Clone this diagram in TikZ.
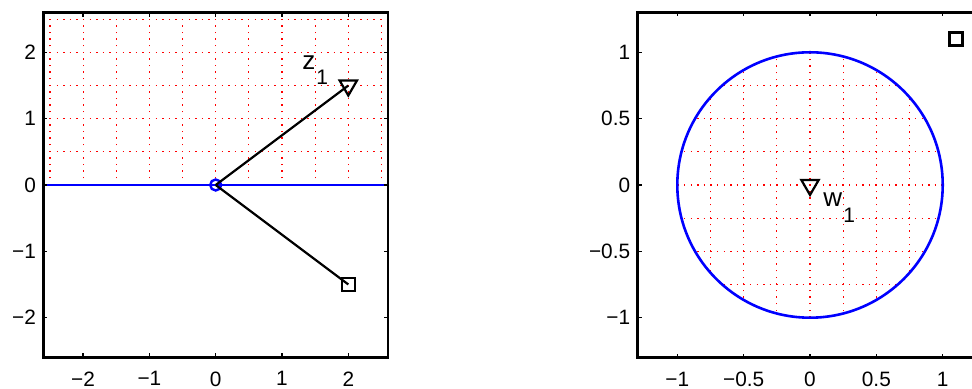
\documentclass[tikz,border=0pt]{standalone}
\usepackage{fontspec}
\setmainfont{Liberation Sans}
\usetikzlibrary{shapes.geometric}

\begin{document}
\begin{tikzpicture}[x=0.5pt, y=0.5pt,
    gridline/.style={red, line width=0.6pt, dash pattern=on 0.7pt off 2.6pt},
    frame/.style={black, line width=1.3pt},
    tickmark/.style={black, line width=0.7pt},
    curve/.style={blue, line width=1.3pt},
    ray/.style={black, line width=1.1pt},
    ptcircle/.style={circle, draw=blue, line width=1.2pt, minimum size=5.5pt, inner sep=0pt},
    pttri/.style={regular polygon, regular polygon sides=3, shape border rotate=180, draw=black, line width=1.1pt, minimum size=10pt, inner sep=0pt},
    ptsquare/.style={rectangle, draw=black, line width=1.1pt, minimum size=6.5pt, inner sep=0pt},
    ylab/.style={font=\fontsize{10.4}{12}\selectfont, inner sep=0pt, anchor=east, xshift=-3.5pt},
    xlab/.style={font=\fontsize{10.4}{12}\selectfont, inner sep=0pt, anchor=north, yshift=-6.9pt},
    ptlab/.style={font=\fontsize{13}{15}\selectfont, inner sep=0pt, anchor=base west}]
  \clip (0,0) rectangle (972,389);

  % Left panel: upper half plane (z)
  \begin{scope}[shift={(215.7,204)}, x=33.15pt, y=33.15pt]
    % grid above the real axis
    \draw[gridline] (-2.5,0) -- (-2.5,2.6) (-2,0) -- (-2,2.6) (-1.5,0) -- (-1.5,2.6)
                    (-1,0) -- (-1,2.6) (-0.5,0) -- (-0.5,2.6) (0,0) -- (0,2.6)
                    (0.5,0) -- (0.5,2.6) (1,0) -- (1,2.6) (1.5,0) -- (1.5,2.6)
                    (2,0) -- (2,2.6) (2.5,0) -- (2.5,2.6);
    \draw[gridline] (-2.6,0.5) -- (2.6,0.5) (-2.6,1) -- (2.6,1) (-2.6,1.5) -- (2.6,1.5)
                    (-2.6,2) -- (2.6,2) (-2.6,2.5) -- (2.6,2.5);

    % real axis
    \coordinate (rl) at (-2.6,0);
    \coordinate (rr) at (2.6,0);
    \draw[curve] (rl) -- (rr);

    % points
    \node[ptcircle] (o) at (0,0) {};
    \node[pttri] (z1) at (2,1.5) {};
    \node[ptsquare] (zs) at (2,-1.5) {};
    \node[ptlab] (z1lab) at (1.30,1.735) {z\kern0.6pt\raisebox{-7.3pt}{\fontsize{10.5}{12}\selectfont 1}};
    \draw[ray] (o.center) -- (z1.center);
    \draw[ray] (o.center) -- (zs.center);

    % box and ticks
    \draw[frame] (-2.6,-2.6) rectangle (2.6,2.6);
    \draw[tickmark] (-2,-2.6) -- ++(0,2pt) (-1,-2.6) -- ++(0,2pt) (0,-2.6) -- ++(0,2pt)
                    (1,-2.6) -- ++(0,2pt) (2,-2.6) -- ++(0,2pt)
                    (-2,2.6) -- ++(0,-2pt) (-1,2.6) -- ++(0,-2pt) (0,2.6) -- ++(0,-2pt)
                    (1,2.6) -- ++(0,-2pt) (2,2.6) -- ++(0,-2pt)
                    (-2.6,-2) -- ++(2pt,0) (-2.6,-1) -- ++(2pt,0) (-2.6,0) -- ++(2pt,0)
                    (-2.6,1) -- ++(2pt,0) (-2.6,2) -- ++(2pt,0)
                    (2.6,-2) -- ++(-2pt,0) (2.6,-1) -- ++(-2pt,0) (2.6,0) -- ++(-2pt,0)
                    (2.6,1) -- ++(-2pt,0) (2.6,2) -- ++(-2pt,0);

    % tick labels
    \node[ylab] (lym2) at (-2.6,-2) {−2};
    \node[ylab] (lym1) at (-2.6,-1) {−1};
    \node[ylab] (ly0) at (-2.6,0) {0};
    \node[ylab] (ly1) at (-2.6,1) {1};
    \node[ylab] (ly2) at (-2.6,2) {2};
    \node[xlab] (lxm2) at (-2,-2.6) {−2};
    \node[xlab] (lxm1) at (-1,-2.6) {−1};
    \node[xlab] (lx0) at (0,-2.6) {0};
    \node[xlab] (lx1) at (1,-2.6) {1};
    \node[xlab] (lx2) at (2,-2.6) {2};
  \end{scope}

  % Right panel: unit disk (w)
  \begin{scope}[shift={(810,204)}, x=66.35pt, y=66.35pt]
    % grid inside the disk
    \begin{scope}
      \clip (0,0) circle (1);
      \draw[gridline] (-0.75,-1) -- (-0.75,1) (-0.5,-1) -- (-0.5,1) (-0.25,-1) -- (-0.25,1)
                      (0,-1) -- (0,1) (0.25,-1) -- (0.25,1) (0.5,-1) -- (0.5,1)
                      (0.75,-1) -- (0.75,1);
      \draw[gridline] (-1,-0.75) -- (1,-0.75) (-1,-0.5) -- (1,-0.5) (-1,-0.25) -- (1,-0.25)
                      (-1,0) -- (1,0) (-1,0.25) -- (1,0.25) (-1,0.5) -- (1,0.5)
                      (-1,0.75) -- (1,0.75);
    \end{scope}

    % unit circle
    \draw[curve] (0,0) circle (1);

    % points
    \node[pttri] (w1) at (0,0) {};
    \node[ptsquare] (ws) at (1.1,1.1) {};
    \node[ptlab] (w1lab) at (0.098,-0.162) {w\kern0.6pt\raisebox{-7.8pt}{\fontsize{10.5}{12}\selectfont 1}};

    % box and ticks
    \draw[frame] (-1.3,-1.3) rectangle (1.3,1.3);
    \draw[tickmark] (-1,-1.3) -- ++(0,2pt) (-0.5,-1.3) -- ++(0,2pt) (0,-1.3) -- ++(0,2pt)
                    (0.5,-1.3) -- ++(0,2pt) (1,-1.3) -- ++(0,2pt)
                    (-1,1.3) -- ++(0,-2pt) (-0.5,1.3) -- ++(0,-2pt) (0,1.3) -- ++(0,-2pt)
                    (0.5,1.3) -- ++(0,-2pt) (1,1.3) -- ++(0,-2pt)
                    (-1.3,-1) -- ++(2pt,0) (-1.3,-0.5) -- ++(2pt,0) (-1.3,0) -- ++(2pt,0)
                    (-1.3,0.5) -- ++(2pt,0) (-1.3,1) -- ++(2pt,0);

    % tick labels
    \node[ylab] (rym1) at (-1.3,-1) {−1};
    \node[ylab] (rymh) at (-1.3,-0.5) {−0.5};
    \node[ylab] (ry0) at (-1.3,0) {0};
    \node[ylab] (ryh) at (-1.3,0.5) {0.5};
    \node[ylab] (ry1) at (-1.3,1) {1};
    \node[xlab] (rxm1) at (-1,-1.3) {−1};
    \node[xlab] (rxmh) at (-0.5,-1.3) {−0.5};
    \node[xlab] (rx0) at (0,-1.3) {0};
    \node[xlab] (rxh) at (0.5,-1.3) {0.5};
    \node[xlab] (rx1) at (1,-1.3) {1};
  \end{scope}
\end{tikzpicture}
\end{document}
